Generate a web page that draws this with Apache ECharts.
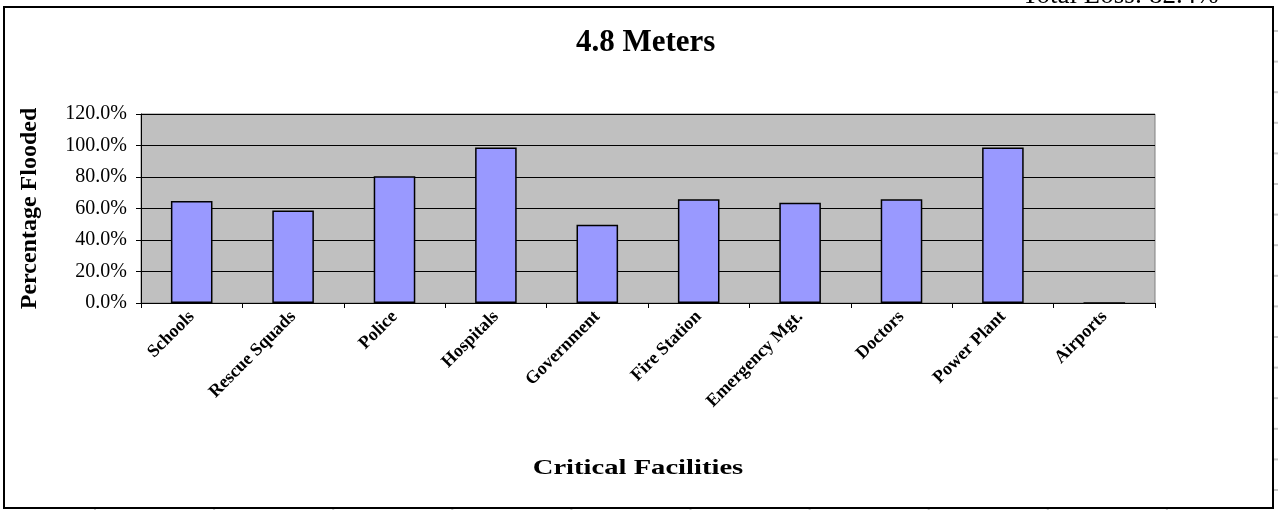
<!DOCTYPE html>
<html>
<head>
<meta charset="utf-8">
<script src="https://cdn.jsdelivr.net/npm/echarts@6/dist/echarts.min.js"></script>
<style>
  html, body { margin: 0; padding: 0; background: #ffffff; }
  #chart { width: 1278px; height: 510px; }
</style>
</head>
<body>
<div id="chart"></div>
<script>
// Share of each critical facility type flooded at a 4.8 m surge
const categories = ['Schools', 'Rescue Squads', 'Police', 'Hospitals', 'Government',
  'Fire Station', 'Emergency Mgt.', 'Doctors', 'Power Plant', 'Airports'];
const floodedShare = [0.647, 0.588, 0.805, 0.987, 0.497, 0.658, 0.636, 0.658, 0.987, 0];
const yTicks = [0, 0.2, 0.4, 0.6, 0.8, 1.0, 1.2];
const chartTitle = '4.8 Meters';
const xAxisTitle = 'Critical Facilities';
const yAxisTitle = 'Percentage Flooded';
const totalLossText = 'Total Loss: 82.4%';

const serif = '"Liberation Serif", "DejaVu Serif", serif';
const chart = echarts.init(document.getElementById('chart'), null, { renderer: 'canvas' });

// worksheet cell-grid stubs peeking outside the chart frame
const sheetLines = [];
for (let y = 31; y < 510; y += 30.6) {
  sheetLines.push({ type: 'line', shape: { x1: 1274, y1: y, x2: 1278, y2: y },
    style: { stroke: '#c8c8c8', lineWidth: 2 }, silent: true });
}
for (let x = 95; x < 1278; x += 119.1) {
  sheetLines.push({ type: 'line', shape: { x1: x, y1: 509, x2: x, y2: 510 },
    style: { stroke: '#c8c8c8', lineWidth: 2 }, silent: true });
}

chart.setOption({
  animation: false,
  backgroundColor: '#ffffff',
  title: {
    text: chartTitle,
    left: 571,
    top: 22,
    textStyle: { fontFamily: serif, fontSize: 31, fontWeight: 'bold', color: '#000' }
  },
  grid: { left: 141, right: 123, top: 114, bottom: 207, show: true,
    backgroundColor: '#c0c0c0', borderColor: '#808080', borderWidth: 1 },
  xAxis: {
    type: 'category',
    data: categories,
    axisLine: { lineStyle: { color: '#000', width: 1 } },
    axisTick: { show: true, alignWithLabel: false, length: 5, lineStyle: { color: '#000' } },
    axisLabel: { rotate: 45, interval: 0, margin: 11, fontFamily: serif, fontSize: 18,
      fontWeight: 'bold', color: '#000' }
  },
  yAxis: {
    type: 'value',
    min: 0,
    max: yTicks[yTicks.length - 1],
    interval: yTicks[1] - yTicks[0],
    name: yAxisTitle,
    nameLocation: 'middle',
    nameGap: 99,
    nameTextStyle: { fontFamily: serif, fontSize: 24, fontWeight: 'bold', color: '#000' },
    axisLine: { show: true, lineStyle: { color: '#000', width: 1 } },
    axisTick: { show: true, length: 5, lineStyle: { color: '#000' } },
    axisLabel: { margin: 14, fontFamily: serif, fontSize: 20, color: '#000',
      formatter: v => (v * 100).toFixed(1) + '%' },
    splitLine: { lineStyle: { color: '#000', width: 1 } }
  },
  series: [{
    type: 'bar',
    data: floodedShare,
    barWidth: '41%',
    itemStyle: { color: '#9999ff', borderColor: '#000', borderWidth: 1.5 }
  }],
  graphic: [
    { type: 'rect', shape: { x: 4, y: 7, width: 1269, height: 501 },
      style: { fill: 'none', stroke: '#000', lineWidth: 2 }, silent: true, z: 100 },
    // x-axis title, set a little wider than its natural width
    { type: 'text', x: 638, y: 468, scaleX: 1.3, silent: true,
      style: { text: xAxisTitle, font: 'bold 22px ' + serif, fill: '#000',
        align: 'center', verticalAlign: 'middle' } },
    { type: 'text', left: 1022, top: -18, silent: true,
      style: { text: totalLossText, font: '27px ' + serif, fill: '#000' } },
    ...sheetLines
  ]
});
</script>
</body>
</html>
